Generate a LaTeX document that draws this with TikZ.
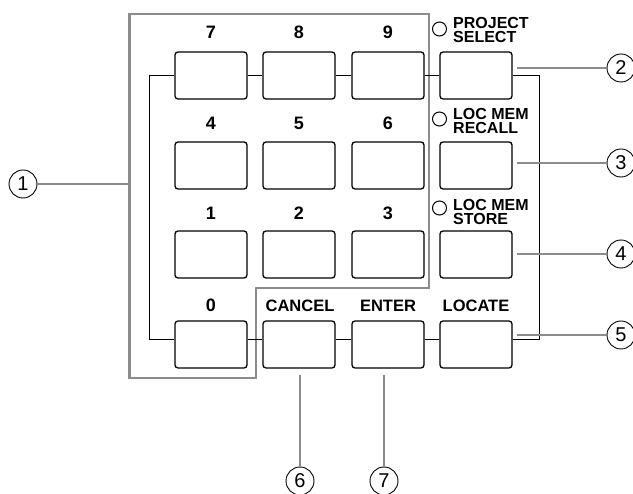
\documentclass[tikz,border=0pt]{standalone}
\usepackage{fontspec}
\setmainfont{Liberation Sans}
\usetikzlibrary{calc}
\definecolor{leadgray}{gray}{0.55}
\tikzset{
  key/.style={draw=black, line width=1.3pt, rounded corners=3pt, minimum width=72pt, minimum height=47pt, inner sep=0pt},
  keylab/.style={font=\fontsize{16.5}{16.5}\selectfont\bfseries, inner sep=0pt, anchor=base},
  digitlab/.style={keylab, font=\fontsize{18}{18}\selectfont\bfseries},
  sidelab/.style={font=\fontsize{16}{14.5}\selectfont\bfseries, inner sep=0pt, align=left, anchor=base west},
  led/.style={draw=black, line width=1pt, circle, minimum size=14pt, inner sep=0pt},
  wire/.style={black, line width=1.3pt},
  frame/.style={leadgray, line width=2.6pt},
  lead/.style={leadgray, line width=2.3pt},
  callout/.style={draw=black, line width=0.9pt, circle, minimum size=28pt, inner sep=0pt, font=\fontsize{20}{20}\selectfont}
}
\begin{document}
\begin{tikzpicture}[x=1pt, y=-1pt]
  \useasboundingbox (0,0) rectangle (633,494);
  % keypad frame
  \draw[frame] (129.5,14) -- (429,14) -- (429,288) -- (256,288) -- (256,378) -- (129.5,378) -- cycle;
  % keys
  \node[key] (k7) at (211,75.5) {};
  \node[key] (k8) at (299,75.5) {};
  \node[key] (k9) at (388,75.5) {};
  \node[key] (kps) at (476,75.5) {};
  \node[key] (k4) at (211,165.5) {};
  \node[key] (k5) at (299,165.5) {};
  \node[key] (k6) at (388,165.5) {};
  \node[key] (krec) at (476,165.5) {};
  \node[key] (k1) at (211,254.5) {};
  \node[key] (k2) at (299,254.5) {};
  \node[key] (k3) at (388,254.5) {};
  \node[key] (ksto) at (476,254.5) {};
  \node[key] (k0) at (211,344.5) {};
  \node[key] (kcan) at (299,344.5) {};
  \node[key] (kent) at (388,344.5) {};
  \node[key] (kloc) at (476,344.5) {};
  % key labels
  \node[digitlab] (l7) at (211,39) {7};
  \node[digitlab] (l8) at (299,39) {8};
  \node[digitlab] (l9) at (388,39) {9};
  \node[digitlab] (l4) at (211,130) {4};
  \node[digitlab] (l5) at (299,130) {5};
  \node[digitlab] (l6) at (388,130) {6};
  \node[digitlab] (l1) at (211,220) {1};
  \node[digitlab] (l2) at (299,220) {2};
  \node[digitlab] (l3) at (388,220) {3};
  \node[digitlab] (l0) at (211,312) {0};
  \node[keylab] (lcan) at (300,312) {CANCEL};
  \node[keylab] (lent) at (388,312) {ENTER};
  \node[keylab] (lloc) at (476,312) {LOCATE};
  \node[sidelab] (lps) at (453,43) {PROJECT\\SELECT};
  \node[sidelab] (lrec) at (453,134) {LOC MEM\\RECALL};
  \node[sidelab] (lsto) at (453,225) {LOC MEM\\STORE};
  \node[led] (dps) at (439.5,29) {};
  \node[led] (drec) at (439.5,119) {};
  \node[led] (dsto) at (439.5,208) {};
  % wiring
  \draw[wire] (k7) -- (k8);
  \draw[wire] (k8) -- (k9);
  \draw[wire] (k9) -- (kps);
  \draw[wire] ([yshift=5pt]k0.east) -- ([yshift=5pt]kcan.west);
  \draw[wire] ([yshift=5pt]kcan.east) -- ([yshift=5pt]kent.west);
  \draw[wire] ([yshift=5pt]kent.east) -- ([yshift=5pt]kloc.west);
  \draw[wire] (k7.west) -- ++(-25,0) |- ([yshift=5pt]k0.west);
  \draw[wire] (kps.east) -- ++(27,0) |- ([yshift=5pt]kloc.east);
  % callouts
  \node[callout] (c1) at (23,184) {1};
  \node[callout] (c2) at (621,68) {2};
  \node[callout] (c3) at (621,163) {3};
  \node[callout] (c4) at (621,254) {4};
  \node[callout] (c5) at (621,335) {5};
  \node[callout] (c6) at (300,481) {6};
  \node[callout] (c7) at (384,481) {7};
  \coordinate (p1) at (129.5,184);
  \coordinate (p2) at (517,68);
  \coordinate (p3) at (517,163);
  \coordinate (p4) at (517,254);
  \coordinate (p5) at (517,335);
  \coordinate (p6) at (300,375);
  \coordinate (p7) at (384,375);
  \draw[lead] (c1) -- (p1);
  \draw[lead] (p2) -- (c2);
  \draw[lead] (p3) -- (c3);
  \draw[lead] (p4) -- (c4);
  \draw[lead] (p5) -- (c5);
  \draw[lead] (p6) -- (c6);
  \draw[lead] (p7) -- (c7);
\end{tikzpicture}
\end{document}
